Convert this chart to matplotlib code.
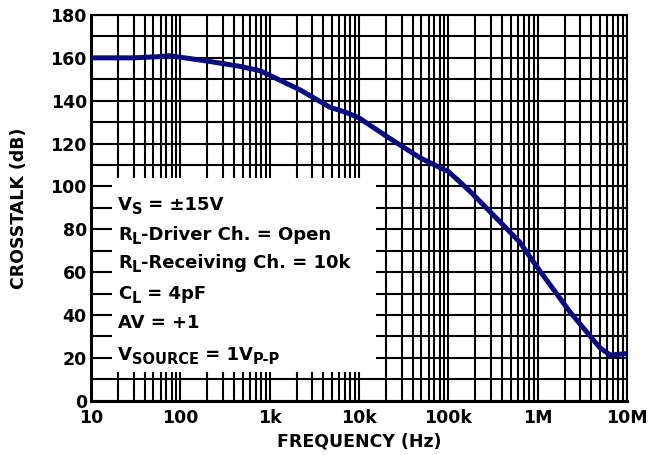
import matplotlib
matplotlib.use("Agg")
import matplotlib.pyplot as plt
from matplotlib.ticker import FixedLocator, LogLocator, NullFormatter
from matplotlib.patches import Rectangle
import numpy as np

plt.rcParams['font.family'] = ['DejaVu Sans']

# Data
freq_hz = [10, 30, 60, 75, 100, 200, 470, 780, 930, 2200, 4700, 7200,
           10000, 21000, 48000, 88000, 100000, 176000, 410000, 630000,
           1000000, 2300000, 5000000, 6500000, 10000000]
crosstalk_db = [160, 160, 160.6, 161, 160.3, 158.5, 156, 154, 152.5, 145, 137,
                134.5, 132, 123, 113.4, 108, 107, 97.6, 82, 74,
                62, 41.4, 24.6, 21.3, 22]

x_ticks = [10, 100, 1e3, 1e4, 1e5, 1e6, 1e7]
x_tick_labels = ["10", "100", "1k", "10k", "100k", "1M", "10M"]
y_ticks = [0, 20, 40, 60, 80, 100, 120, 140, 160, 180]

# each note: list of (text, is_subscript)
notes = [
    [("V", False), ("S", True), (" = ±15V", False)],
    [("R", False), ("L", True), ("-Driver Ch. = Open", False)],
    [("R", False), ("L", True), ("-Receiving Ch. = 10k", False)],
    [("C", False), ("L", True), (" = 4pF", False)],
    [("AV = +1", False)],
    [("V", False), ("SOURCE", True), (" = 1V", False), ("P-P", True)],
]

fig = plt.figure(figsize=(6.5, 4.55), dpi=100)
W, H = 650, 455
ax = fig.add_axes([91 / W, 1 - 400.7 / H, 536 / W, 385.7 / H])
ax.set_xscale('log')
ax.set_xlim(10, 1e7)
ax.set_ylim(0, 180)

ax.set_xticks(x_ticks)
ax.set_xticklabels(x_tick_labels)
ax.xaxis.set_minor_locator(LogLocator(base=10, subs=np.arange(2, 10)))
ax.xaxis.set_minor_formatter(NullFormatter())
ax.set_yticks(y_ticks)
ax.yaxis.set_minor_locator(FixedLocator(np.arange(10, 180, 20)))

ax.set_axisbelow(True)
ax.grid(which='both', color='black', linewidth=1.5)
ax.tick_params(which='both', length=0)
ax.tick_params(axis='x', pad=6, labelsize=12.5)
ax.tick_params(axis='y', pad=3, labelsize=12.5)
for lab in ax.get_xticklabels() + ax.get_yticklabels():
    lab.set_fontweight('bold')

for s in ax.spines.values():
    s.set_linewidth(1.5)
ax.spines['left'].set_linewidth(2.2)
ax.spines['bottom'].set_linewidth(2.2)

# white text box covering the grid
box_x0, box_x1 = 10, 15500
box_y0, box_y1 = 13.5, 104
ax.add_patch(Rectangle((box_x0, box_y0), box_x1 - box_x0, box_y1 - box_y0,
                       facecolor='white', edgecolor='none', zorder=1))
# short stubs at the left edge inside the box
stub_end = 10 ** (1 + 21 / 89.3)
for yv in np.arange(20, 101, 10):
    ax.plot([10, stub_end], [yv, yv], color='black', lw=1.5, zorder=1.5,
            solid_capstyle='butt')

ax.plot(freq_hz, crosstalk_db, color='#0a0a80', lw=3.6, zorder=3,
        solid_capstyle='butt', clip_on=False)

ax.set_xlabel("FREQUENCY (Hz)", fontsize=12.5, fontweight='bold', labelpad=4)
ax.set_ylabel("CROSSTALK (dB)", fontsize=12.5, fontweight='bold', labelpad=16)

renderer = fig.canvas.get_renderer()
main_fs, sub_fs = 13, 10.5
note_baseline_px = [210, 240, 268, 299, 328, 360]
for segs, ypx in zip(notes, note_baseline_px):
    xpx = 118.0
    for txt, is_sub in segs:
        fs = sub_fs if is_sub else main_fs
        dy = -4.0 if is_sub else 0.0
        t = fig.text(xpx / W, 1 - (ypx - dy) / H, txt, fontsize=fs,
                     fontweight='bold', va='baseline', ha='left')
        xpx += t.get_window_extent(renderer).width

fig.savefig("out.png", dpi=100)
